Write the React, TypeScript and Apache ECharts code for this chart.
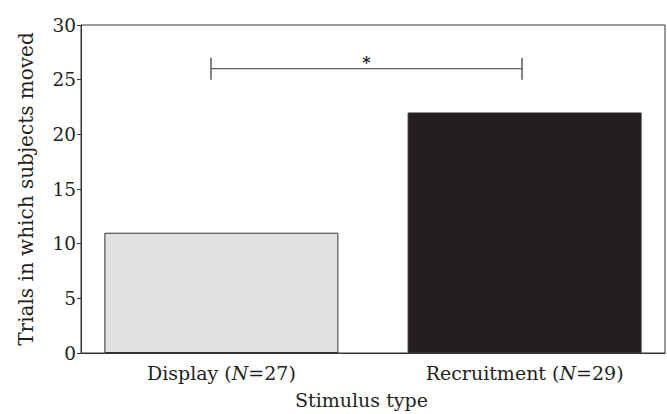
import React, { useEffect, useRef } from "react";
import * as echarts from "echarts";

const categories = ["Display", "Recruitment"];
const sampleSizes = [27, 29];
const trialsMoved = [11, 22];
const barColors = ["#e0e1e3", "#231f20"];
const yTicks = [0, 5, 10, 15, 20, 25, 30];
const bracket = { from: 0, to: 1, level: 26, label: "*" };

const FONT = "DejaVu Serif";
const INK = "#231f20";

export default function App() {
  const ref = useRef<HTMLDivElement>(null);
  useEffect(() => {
    if (!ref.current) return;
    const chart = echarts.init(ref.current, undefined, { renderer: "svg" });
    const barSeries = categories.map((c, idx) => ({
      type: "bar",
      name: c,
      data: trialsMoved.map((v, i) =>
        i === idx
          ? {
              value: v,
              itemStyle: { color: barColors[i], borderColor: "#333333", borderWidth: 1 },
            }
          : null
      ),
      barWidth: 234,
      barGap: "-95.2%",
      label: {
        show: true,
        position: "bottom",
        distance: 10,
        formatter: () => `${c} ({i|N}=${sampleSizes[idx]})`,
        color: INK,
        fontFamily: FONT,
        fontSize: 19,
        rich: { i: { fontStyle: "italic", fontFamily: FONT, fontSize: 19, color: INK } },
      },
    }));
    const option: any = {
      animation: false,
      backgroundColor: "#ffffff",
      grid: {
        left: 81,
        right: 2,
        top: 25,
        bottom: 60,
        show: true,
        borderColor: "#333333",
        borderWidth: 1,
        backgroundColor: "transparent",
      },
      xAxis: {
        type: "category",
        data: categories,
        axisTick: { show: false },
        axisLine: { lineStyle: { color: "#333333", width: 1 } },
        axisLabel: { show: false },
        name: "Stimulus type",
        nameLocation: "middle",
        nameGap: 37,
        nameTextStyle: {
          color: INK,
          fontFamily: FONT,
          fontSize: 19,
          padding: [0, 23, 0, 0],
        },
      },
      yAxis: {
        type: "value",
        min: yTicks[0],
        max: yTicks[yTicks.length - 1],
        interval: yTicks[1] - yTicks[0],
        splitLine: { show: false },
        axisLine: { show: true, lineStyle: { color: "#333333", width: 1 } },
        axisTick: { show: true, inside: false, length: 4, lineStyle: { color: "#333333" } },
        axisLabel: { color: INK, fontFamily: FONT, fontSize: 18.5, margin: 5 },
        name: "Trials in which subjects moved",
        nameLocation: "middle",
        nameGap: 45,
        nameTextStyle: { color: INK, fontFamily: FONT, fontSize: 20 },
      },
      series: [
        ...barSeries,
        {
          type: "custom",
          data: [[bracket.from, bracket.to, bracket.level]],
          renderItem: (params: any, api: any) => {
            const a = api.coord([api.value(0), api.value(2)]);
            const b = api.coord([api.value(1), api.value(2)]);
            const hTop = api.coord([0, api.value(2) + 1])[1];
            const hBot = api.coord([0, api.value(2) - 1])[1];
            const x0 = a[0] - 16;
            const x1 = b[0] + 3;
            const y = a[1];
            const ls = { stroke: "#333333", lineWidth: 1.2 };
            return {
              type: "group",
              children: [
                { type: "line", shape: { x1: x0, y1: y, x2: x1, y2: y }, style: ls },
                { type: "line", shape: { x1: x0, y1: hTop, x2: x0, y2: hBot }, style: ls },
                { type: "line", shape: { x1: x1, y1: hTop, x2: x1, y2: hBot }, style: ls },
                {
                  type: "text",
                  x: (x0 + x1) / 2,
                  y: y + 2,
                  style: {
                    text: bracket.label,
                    fill: INK,
                    font: `bold 16px ${FONT}`,
                    align: "center",
                    verticalAlign: "bottom",
                  },
                },
              ],
            };
          },
        },
      ],
    };
    chart.setOption(option);
    return () => chart.dispose();
  }, []);
  return (
    <div
      ref={ref}
      style={{ position: "absolute", left: 0, top: 0, width: 667, height: 414 }}
    />
  );
}
